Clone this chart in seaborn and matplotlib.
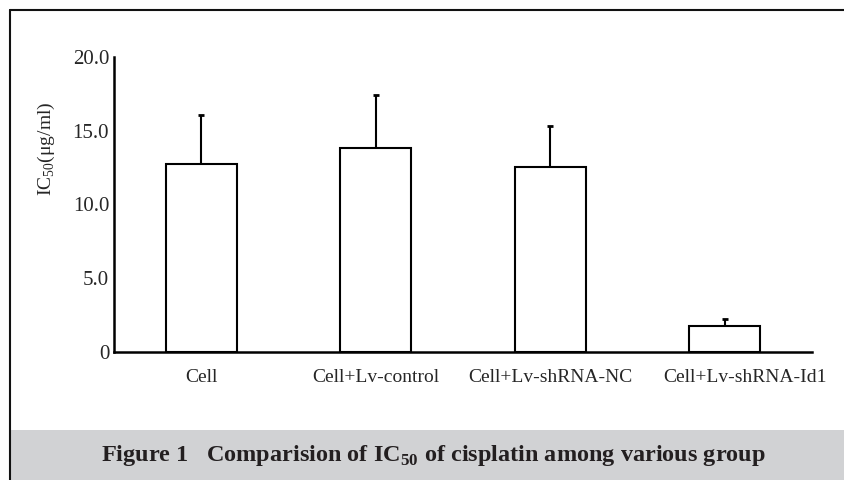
import matplotlib
matplotlib.use("Agg")
import matplotlib.pyplot as plt
import matplotlib.transforms as mtransforms
import seaborn as sns
import pandas as pd
from matplotlib.patches import Rectangle
from matplotlib.lines import Line2D

groups = ["Cell", "Cell+Lv-control", "Cell+Lv-shRNA-NC", "Cell+Lv-shRNA-Id1"]
ic50 = [12.75, 13.8, 12.55, 1.75]
sd = [3.3, 3.6, 2.8, 0.5]
yticks = [0, 5, 10, 15, 20]
ytick_labels = ["0", "5.0", "10.0", "15.0", "20.0"]

df = pd.DataFrame({"group": groups, "ic50": ic50, "sd": sd})

sns.set_style("white")
plt.rcParams["font.family"] = ["Liberation Serif", "DejaVu Serif"]
plt.rcParams["mathtext.fontset"] = "custom"
plt.rcParams["mathtext.rm"] = "Liberation Serif"
plt.rcParams["mathtext.bf"] = "Liberation Serif:bold"

fig = plt.figure(figsize=(8.44, 4.8), dpi=100)
ax = fig.add_axes([0.1351, 0.2667, 0.827, 0.6146])

# error bars only upward, drawn behind the bars
eb = ax.errorbar(range(len(groups)), df["ic50"], yerr=[[0] * len(sd), df["sd"]],
                 fmt="none", ecolor="black", elinewidth=1.5, capsize=2.5, capthick=2,
                 zorder=1)
eb[1][0].set_visible(False)  # lower caps

sns.barplot(data=df, x="group", y="ic50", color="white", edgecolor="black",
            linewidth=1.5, width=0.405, errorbar=None, ax=ax, saturation=1, zorder=2)

ax.set_xlim(-0.5, 3.5)
ax.set_ylim(0, 20)
ax.set_yticks(yticks)
ax.set_yticklabels(ytick_labels, fontsize=15)
ax.set_xlabel("")
ax.set_ylabel(r"IC$_\mathrm{50}$(μg/ml)", fontsize=14)
ax.yaxis.set_label_coords(-0.082, 0.69)
ax.tick_params(axis="y", direction="in", length=5, width=1.8, pad=3.5)
ax.tick_params(axis="x", length=0, pad=12, labelsize=14)
# last label sits a bit right of its bar in the original
lbls = ax.get_xticklabels()
lbls[-1].set_transform(lbls[-1].get_transform() +
                       mtransforms.ScaledTranslation(0.2, 0, fig.dpi_scale_trans))
for s in ["top", "right"]:
    ax.spines[s].set_visible(False)
for s in ["left", "bottom"]:
    ax.spines[s].set_linewidth(1.8)
    ax.spines[s].set_color("black")

# frame and caption band
fig.patches.append(Rectangle((10 / 844, 0), 1, 50 / 480, transform=fig.transFigure,
                             facecolor="#d1d2d4", edgecolor="none", zorder=0))
fig.lines.append(Line2D([9.5 / 844, 9.5 / 844], [0, 1 - 9.5 / 480],
                        transform=fig.transFigure, color="#111111", lw=1.5))
fig.lines.append(Line2D([9.5 / 844, 1], [1 - 9.5 / 480, 1 - 9.5 / 480],
                        transform=fig.transFigure, color="#111111", lw=1.5))
fig.text(433 / 844, 24 / 480,
         r"Figure 1   Comparision of IC$_\mathbf{50}$ of cisplatin among various group",
         ha="center", va="center", fontsize=17.5, fontweight="bold", color="#231f20")

fig.savefig("out.png", dpi=100)
